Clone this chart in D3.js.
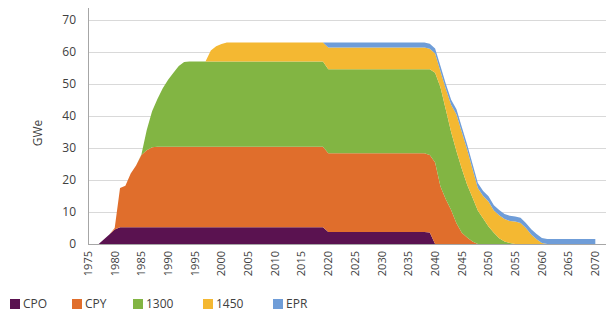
<!DOCTYPE html>
<html><head><meta charset="utf-8">
<script src="https://cdn.jsdelivr.net/npm/d3@7"></script>
<style>
html,body{margin:0;padding:0;background:#fff;}
svg{display:block;font-family:"Open Sans",sans-serif;}
</style></head>
<body><svg id="c" width="607" height="311"></svg>
<script>
const years = d3.range(1975, 2071);
const seriesNames = ["CPO", "CPY", "1300", "1450", "EPR"];
const colors = ["#5a1250", "#e06e2c", "#82b543", "#f4b832", "#6f9dd8"];
const yTicks = [0, 10, 20, 30, 40, 50, 60, 70];
const xTickYears = d3.range(1975, 2071, 5);

const rep = (v, n) => Array(n).fill(v);
const CPO = [0,0,0,1.5,3.0,4.5, ...rep(5.2,39), ...rep(3.75,19), 3.6, ...rep(0,31)];
const CPY = [0,0,0,0,0, 0.5, 12.3,13.0,16.8,19.3,22.6,24.1,25.0, ...rep(25.2,32), ...rep(24.6,19), 24.2,
  25.5,18,14,10.6,6.5,3.5,2,0.8, ...rep(0,23)];
const S1300 = [...rep(0,10), 0.2,6.3,11.3,14.9,18.3,20.9,23.1,25.2,26.5, ...rep(26.6,26), ...rep(26.25,19),
  26.8,28.0,31,28,24.4,22.5,20,16.5,13.7,10.5,8,5.5,3.5,1.8,0.8,0.3, ...rep(0,16)];
const S1450 = [...rep(0,23), 3.5,4.8,5.5, ...rep(6.0,19), ...rep(6.8,19),
  6.4,6.0,5,6.5,8.5,11.5,11.5,11,9,7,7,7.8,7,7.2,7.0,6.9,7.0,6.6,5.0,3.0,1.5,0.3, ...rep(0,10)];
const EPR = [...rep(0,45), ...rep(1.6,51)];

const seriesValues = [CPO, CPY, S1300, S1450, EPR];
const table = years.map((yr, i) => {
  const o = {year: yr};
  seriesNames.forEach((n, k) => o[n] = seriesValues[k][i]);
  return o;
});

const svg = d3.select("#c");
const mLeft = 88, mRight = 606, mTop = 20, mBottom = 244;
const x = d3.scaleLinear().domain([1975, 2072]).range([mLeft, mRight]);
const y = d3.scaleLinear().domain([0, 70]).range([mBottom, mTop]);

svg.append("g").selectAll("line").data(yTicks.filter(d => d > 0)).join("line")
  .attr("x1", mLeft).attr("x2", mRight)
  .attr("y1", d => y(d) + 0.5).attr("y2", d => y(d) + 0.5)
  .attr("stroke", "#d9d9d9").attr("stroke-width", 1);

const layers = d3.stack().keys(seriesNames)(table);
const area = d3.area()
  .x(d => x(d.data.year))
  .y0(d => y(d[0]))
  .y1(d => y(d[1]));

svg.append("g").selectAll("path").data(layers).join("path")
  .attr("d", area)
  .attr("fill", (d, i) => colors[i]);

svg.append("line").attr("x1", mLeft + 0.5).attr("x2", mLeft + 0.5).attr("y1", 8).attr("y2", mBottom)
  .attr("stroke", "#a6a6a6").attr("stroke-width", 1);
svg.append("line").attr("x1", mLeft).attr("x2", mRight).attr("y1", mBottom + 0.5).attr("y2", mBottom + 0.5)
  .attr("stroke", "#a6a6a6").attr("stroke-width", 1);

svg.append("g").selectAll("text").data(yTicks).join("text")
  .attr("x", 76).attr("y", d => y(d)).attr("dy", "0.35em")
  .attr("text-anchor", "end").attr("font-size", 12).attr("fill", "#404040")
  .text(d => d);

svg.append("g").selectAll("text").data(xTickYears).join("text")
  .attr("transform", d => `translate(${x(d)},251) rotate(-90)`)
  .attr("dy", "0.35em").attr("text-anchor", "end")
  .attr("font-size", 11).attr("fill", "#404040")
  .text(d => d);

svg.append("text").attr("transform", "translate(38,133) rotate(-90)")
  .attr("dy", "0.35em").attr("text-anchor", "middle")
  .attr("font-size", 12).attr("fill", "#404040").text("GWe");

const legX = [10, 72, 133, 203, 273];
const leg = svg.append("g").selectAll("g").data(seriesNames).join("g")
  .attr("transform", (d, i) => `translate(${legX[i]},299)`);
leg.append("rect").attr("width", 10).attr("height", 10).attr("fill", (d, i) => colors[i]);
leg.append("text").attr("x", 13).attr("y", 5).attr("dy", "0.35em")
  .attr("font-size", 12).attr("fill", "#404040").text(d => d);
</script>
</body></html>
